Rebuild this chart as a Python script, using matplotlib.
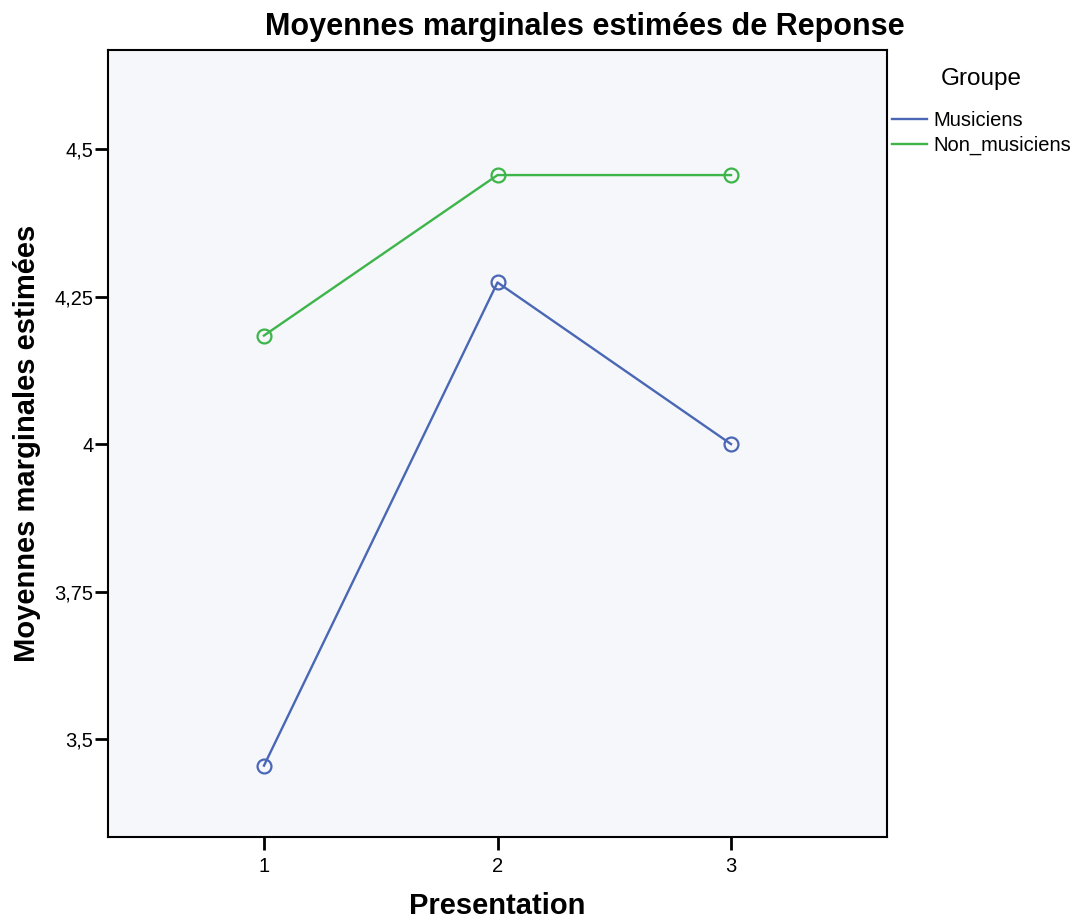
import matplotlib
matplotlib.use("Agg")
import matplotlib.pyplot as plt
from matplotlib.lines import Line2D

plt.rcParams['font.family'] = ['Liberation Sans', 'DejaVu Sans']

presentation = [1, 2, 3]
musiciens = [3.455, 4.274, 4.0]
non_musiciens = [4.184, 4.456, 4.456]
ytick_vals = [3.5, 3.75, 4.0, 4.25, 4.5]
ytick_labels = ["3,5", "3,75", "4", "4,25", "4,5"]
xtick_labels = ["1", "2", "3"]
groups = ["Musiciens", "Non_musiciens"]

fig = plt.figure(figsize=(10.77, 9.22), dpi=100)
ax = fig.add_axes([108/1077, 1-837/922, (887-108)/1077, (837-50)/922])
ax.set_facecolor("#f5f7fa")

blue = "#4a67b5"
green = "#3db54a"
colors = [blue, green]
for vals, c, g in zip([musiciens, non_musiciens], colors, groups):
    ax.plot(presentation, vals, color=c, lw=1.7, marker='o', ms=10,
            mfc='none', mec=c, mew=1.6, label=g)

ax.set_xlim(0.332, 3.668)
ax.set_ylim(3.334, 4.668)
ax.set_xticks(presentation)
ax.set_xticklabels(xtick_labels)
ax.set_yticks(ytick_vals)
ax.set_yticklabels(ytick_labels)
ax.tick_params(direction='out', length=9.5, width=2, labelsize=14.5, colors='black')
ax.tick_params(axis='y', pad=1)
ax.tick_params(axis='x', pad=5)
for s in ax.spines.values():
    s.set_linewidth(1.5)
    s.set_color('black')

fig.text(584.5/1077, 1-27/922, "Moyennes marginales estimées de Reponse",
         fontsize=22, fontweight='bold', ha='center', va='center')
ax.set_xlabel("Presentation", fontsize=21, fontweight='bold')
ax.xaxis.set_label_coords(0.5, -(906-837)/787)
ax.xaxis.label.set_va('center')
ax.set_ylabel("Moyennes marginales estimées", fontsize=21, fontweight='bold')
ax.yaxis.set_label_coords(-(108-27)/779, 0.5)
ax.yaxis.label.set_va('center')

handles = [Line2D([], [], color=c, lw=1.7) for c in colors]
leg = fig.legend(handles, groups, loc='upper left',
                 bbox_to_anchor=(892/1077, 1-68/922), frameon=False,
                 title="Groupe", fontsize=14.5, title_fontsize=17.5,
                 handlelength=1.75, handletextpad=0.3, borderaxespad=0,
                 borderpad=0, labelspacing=0.3)
leg._legend_box.align = "center"
leg._legend_box.sep = 15

fig.savefig("out.png", dpi=100)
